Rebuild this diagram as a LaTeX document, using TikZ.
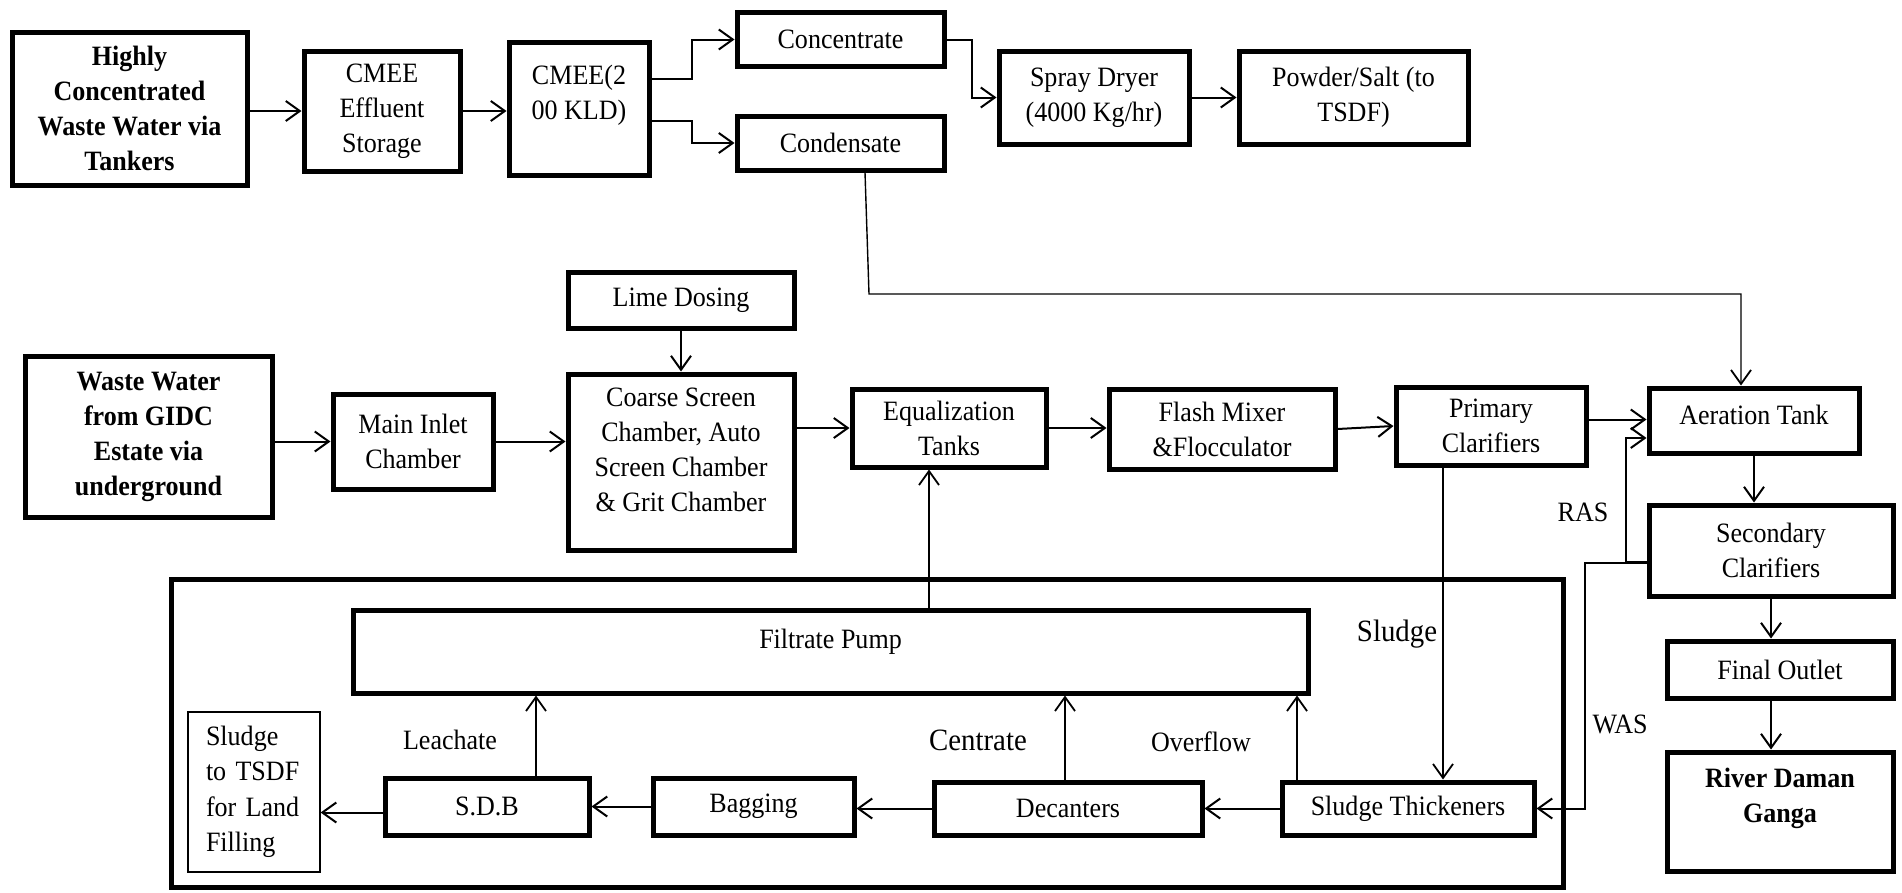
\documentclass[tikz,border=0pt]{standalone}
\usepackage{fontspec}
\setmainfont{Liberation Serif}[FakeStretch=0.93]
\usetikzlibrary{arrows.meta,calc}
\begin{document}
\begin{tikzpicture}[x=1pt,y=-1pt,
  blk/.style={draw, line width=5pt, inner sep=0pt, align=center, font=\fontsize{28}{35}\selectfont},
  bblk/.style={blk, font=\bfseries\fontsize{28}{35}\selectfont},
  thinblk/.style={draw, line width=1.2pt, inner sep=0pt, align=left, font=\fontsize{28}{35.5}\selectfont},
  frame/.style={draw, line width=5pt},
  arr/.style={line width=2pt, -{Straight Barb[length=14pt,width=20pt,line width=2pt]}},
  tarr/.style={line width=1.4pt, -{Straight Barb[length=14pt,width=20pt,line width=1.8pt]}},
  lbl/.style={font=\fontsize{28}{30}\selectfont, inner sep=0pt},
  biglbl/.style={font=\fontsize{31}{33}\selectfont, inner sep=0pt},
  sz/.style 2 args={minimum width=#1pt, minimum height=#2pt}
]
\useasboundingbox (0,0) rectangle (1902,892);

% top row
\node[bblk, sz={235}{153}] (hcww) at (129.5,108.5) {Highly\\Concentrated\\Waste Water via\\Tankers};
\node[blk, sz={156}{120}] (cmees) at (382,111) {CMEE\\Effluent\\Storage};
\node[blk, sz={140}{133}] (cmee) at (579,108.5) {CMEE(2\\00 KLD)\\[-14pt]\strut};
\node[blk, sz={207}{54}] (conc) at (840.5,39.5) {Concentrate};
\node[blk, sz={207}{54}] (cond) at (840.5,143) {Condensate};
\node[blk, sz={190}{93}] (spray) at (1094,97.5) {Spray Dryer\\(4000 Kg/hr)};
\node[blk, sz={229}{93}] (powder) at (1353.5,97.5) {Powder/Salt (to\\TSDF)};

% middle row
\node[bblk, sz={247}{161}] (wwg) at (148.5,436.5) {Waste Water\\from GIDC\\Estate via\\underground};
\node[blk, sz={160}{95}] (mic) at (413,441.5) {Main Inlet\\Chamber};
\node[blk, sz={226}{56}] (lime) at (681,300) {Lime Dosing};
\node[blk, sz={226}{176}] (coarse) at (681,462) {Coarse Screen\\Chamber, Auto\\Screen Chamber\\\& Grit Chamber\\[-21pt]\strut};
\node[blk, sz={194}{78}] (eq) at (949,428) {Equalization\\Tanks};
\node[blk, sz={226}{80}] (flash) at (1222,429) {Flash Mixer\\\&Flocculator};
\node[blk, sz={190}{78}] (prim) at (1491,426) {Primary\\Clarifiers};
\node[blk, sz={210}{65}] (aer) at (1754,420.5) {Aeration Tank\\[-35pt]\strut};
\node[blk, sz={244}{91}] (sec) at (1771,550.5) {Secondary\\Clarifiers};
\node[blk, sz={226}{57}] (fin) at (1780,669.5) {Final Outlet};
\node[blk, sz={226}{119}, label={[font=\bfseries\fontsize{28}{35}\selectfont, align=center, yshift=13pt]center:River Daman\\Ganga}] (river) at (1780,811.5) {};

% bottom section
\node[frame, inner sep=0pt, minimum width=1392pt, minimum height=308pt] (frm) at (867,733) {};
\node[blk, sz={955}{83}] (filt) at (830.5,651.5) {Filtrate Pump\\[-20pt]\strut};
\node[thinblk, sz={132}{160}, text width=96pt] (tsdf) at (254,792) {Sludge\\to TSDF\\for Land\\Filling};
\node[blk, sz={204}{57}] (sdb) at (487,806.5) {S.D.B};
\node[blk, sz={201}{57}] (bag) at (753.5,806.5) {Bagging};
\node[blk, sz={268}{53}] (dec) at (1068,808.5) {Decanters};
\node[blk, sz={252}{53}] (thick) at (1408,808.5) {Sludge Thickeners};

% labels
\node[lbl] (leach) at (450,740) {Leachate};
\node[biglbl] (centr) at (978,740) {Centrate};
\node[lbl] (over) at (1201,742) {Overflow};
\node[biglbl] (sludge) at (1397,634) {Sludge};
\node[lbl] (ras) at (1583,512) {RAS};
\node[lbl] (was) at (1620,724) {WAS};

% top connectors
\draw[arr] (hcww.east |- cmees.west) -- (cmees.west);
\draw[arr] (cmees.east) -- (cmees.east -| cmee.west);
\draw[arr] ([yshift=29.5pt]cmee.east) -- ++(40,0) |- (conc.west);
\draw[arr] ([yshift=-12.5pt]cmee.east) -- ++(40,0) |- (cond.west);
\draw[arr] (conc.east) -- ++(25,0) |- (spray.west);
\draw[arr] (spray.east) -- (powder.west);
\coordinate (cbend) at (869,294);
\draw[tarr] ([xshift=24.5pt]cond.south) -- (cbend) -| ([xshift=-13pt]aer.north);

% middle connectors
\draw[arr] (wwg.east |- mic.west) -- (mic.west);
\draw[arr] (mic.east) -- (mic.east -| coarse.west);
\draw[arr] (lime.south) -- (coarse.north);
\draw[arr] (coarse.east |- eq.west) -- (eq.west);
\draw[arr] (eq.east) -- (eq.east -| flash.west);
\draw[arr] (flash.east) -- (prim.west);
\draw[arr] ([yshift=1pt]aer.west -| prim.east) -- ([yshift=1pt]aer.west);
\draw[arr] (aer.south) -- (aer.south |- sec.north);
\draw[arr] (sec.south) -- (sec.south |- fin.north);
\draw[arr] (sec.south |- fin.south) -- (sec.south |- river.north);
\draw[arr] ([yshift=-11.5pt]sec.west) -- ++(-21,0) |- ([yshift=-17.5pt]aer.west);
\draw[arr] ([yshift=-12pt]sec.west) -- ++(-62,0) |- (thick.east);
\draw[tarr] ([xshift=-48pt]prim.south) -- ([xshift=-48pt]prim.south |- thick.north);
\draw[tarr] ([xshift=-20pt]eq.south |- filt.north) -- ([xshift=-20pt]eq.south);

% bottom connectors
\draw[arr] (thick.west) -- (dec.east);
\draw[arr] (dec.west) -- (dec.west -| bag.east);
\draw[arr] (bag.west) -- (sdb.east);
\draw[arr] ([yshift=-6pt]sdb.west) -- ([yshift=-6pt]sdb.west -| tsdf.east);
\draw[tarr] ([xshift=49pt]sdb.north) -- ([xshift=49pt]sdb.north |- filt.south);
\draw[tarr] ([xshift=-3pt]dec.north) -- ([xshift=-3pt]dec.north |- filt.south);
\draw[tarr] ([xshift=-111pt]thick.north) -- ([xshift=-111pt]thick.north |- filt.south);
\end{tikzpicture}
\end{document}
